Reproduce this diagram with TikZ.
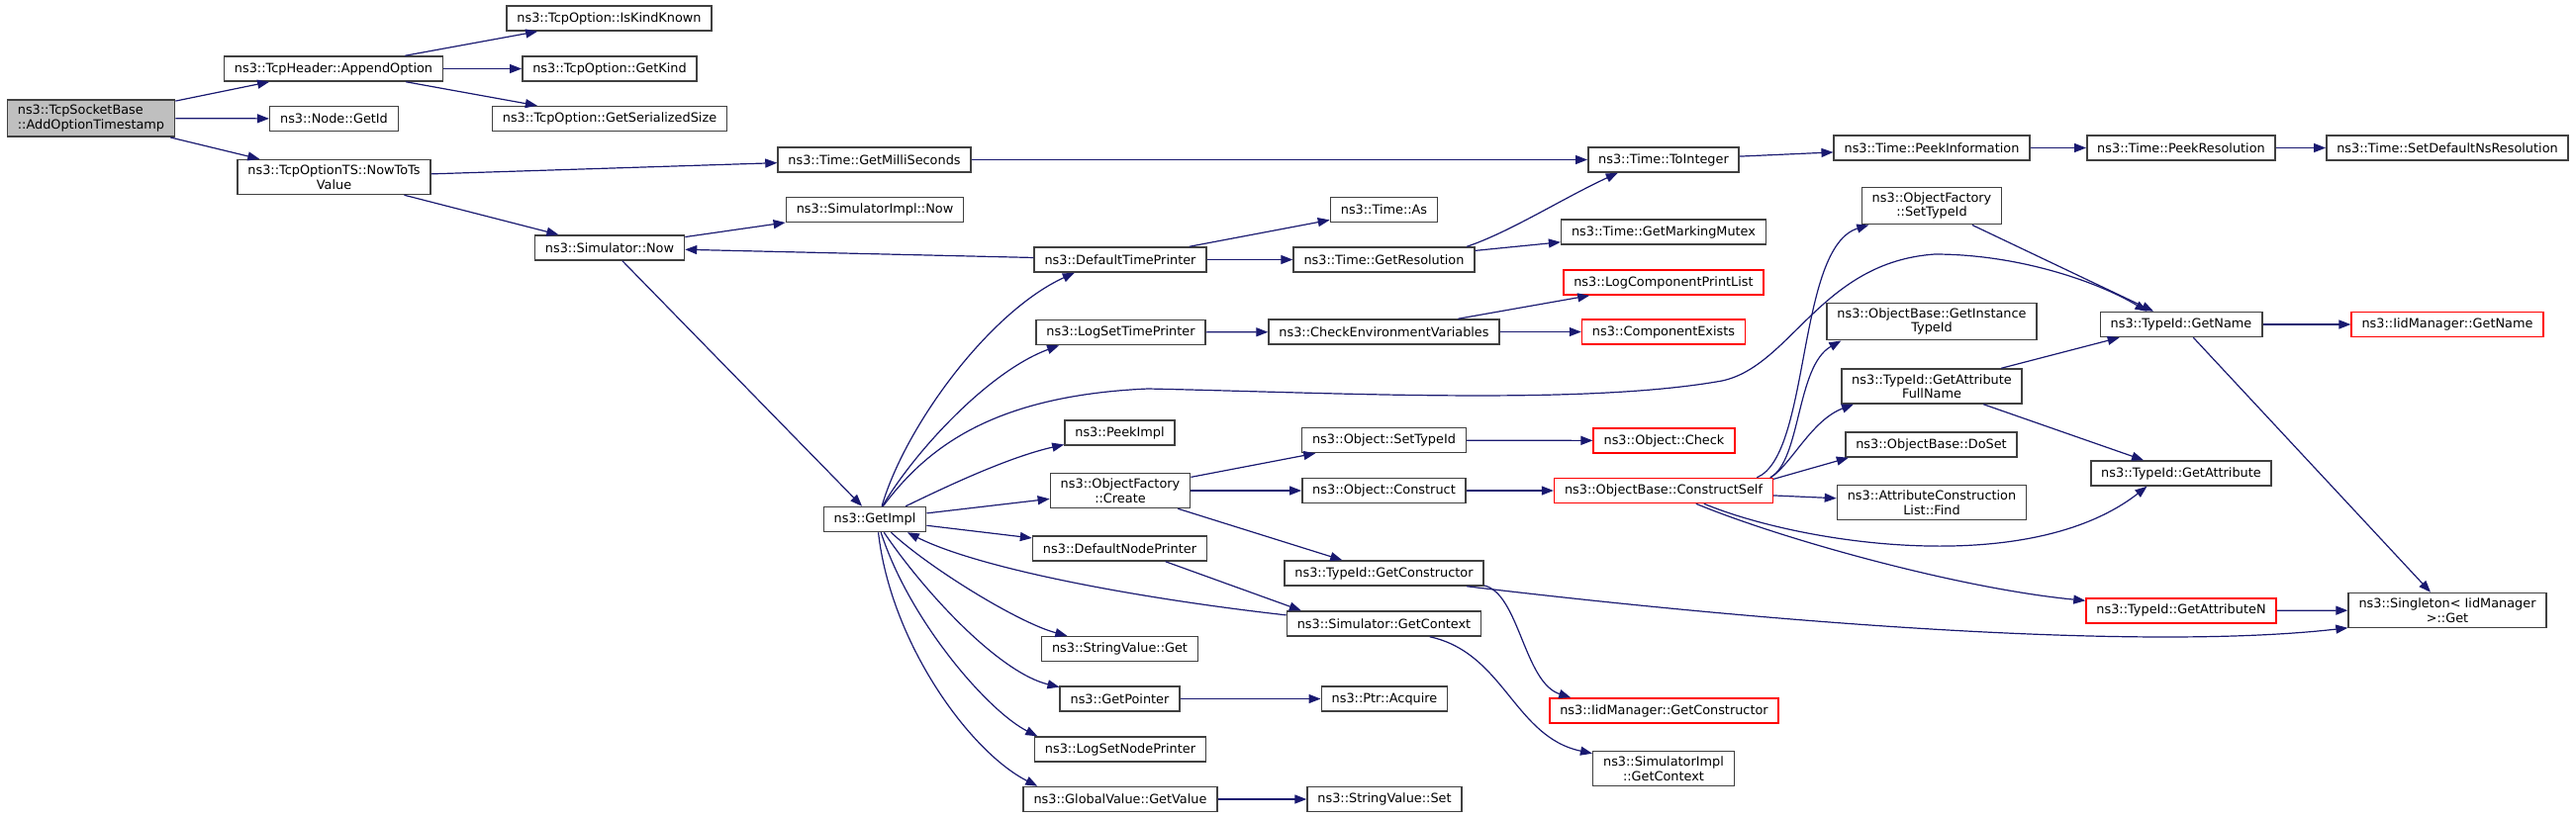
\documentclass[tikz,border=0pt]{standalone}
\usepackage{fontspec}
\setmainfont{DejaVu Sans}
\usetikzlibrary{arrows.meta}
\definecolor{callblue}{HTML}{191970}
\definecolor{boxgray}{HTML}{404040}

\begin{document}
\begin{tikzpicture}[
        x=0.5pt, y=-0.5pt,
        box/.style={draw=boxgray, line width=0.75pt, align=center, inner xsep=5.2pt, inner ysep=2.6pt,
            minimum height=12.5pt, font=\fontsize{6.43}{7.3}\selectfont},
        rootbox/.style={box, fill=black!25, align=left},
        redbox/.style={box, draw=red},
        callto/.style={->, draw=callblue, line width=0.6pt},
        >={Triangle[length=6pt, width=4.5pt]}]
        \useasboundingbox (0,0) rectangle (2603,827);

        % columns, left to right
        \node[rootbox] (root) at (92,119.5) {ns3::TcpSocketBase\\::AddOptionTimestamp};

        \node[box] (append) at (337,69.5) {ns3::TcpHeader::AppendOption};
        \node[box] (getid) at (337.5,120) {ns3::Node::GetId};
        \node[box] (nowts) at (337.5,179) {ns3::TcpOptionTS::NowToTs\\Value};

        \node[box] (iskind) at (615.5,18.5) {ns3::TcpOption::IsKindKnown};
        \node[box] (getkind) at (616,69.5) {ns3::TcpOption::GetKind};
        \node[box] (sersize) at (616,120) {ns3::TcpOption::GetSerializedSize};
        \node[box] (simnow) at (616,250.5) {ns3::Simulator::Now};

        \node[box] (millis) at (883.5,161.5) {ns3::Time::GetMilliSeconds};
        \node[box] (implnow) at (884,212) {ns3::SimulatorImpl::Now};
        \node[box] (getimpl) at (884,525) {ns3::GetImpl};

        \node[box] (deftime) at (1132,262.5) {ns3::DefaultTimePrinter};
        \node[box] (logtime) at (1132.5,336) {ns3::LogSetTimePrinter};
        \node[box] (peekimpl) at (1131.5,437.5) {ns3::PeekImpl};
        \node[box] (ofcreate) at (1132,496) {ns3::ObjectFactory\\::Create};
        \node[box] (defnode) at (1131.5,554.5) {ns3::DefaultNodePrinter};
        \node[box] (svget) at (1131.5,656) {ns3::StringValue::Get};
        \node[box] (getptr) at (1131.5,706.5) {ns3::GetPointer};
        \node[box] (lognode) at (1132,757.5) {ns3::LogSetNodePrinter};
        \node[box] (gvget) at (1132,808) {ns3::GlobalValue::GetValue};

        \node[box] (timeas) at (1398.5,212) {ns3::Time::As};
        \node[box] (getres) at (1398.5,262.5) {ns3::Time::GetResolution};
        \node[box] (checkenv) at (1398.5,335.5) {ns3::CheckEnvironmentVariables};
        \node[box] (objset) at (1398.5,445) {ns3::Object::SetTypeId};
        \node[box] (objcons) at (1398.5,496) {ns3::Object::Construct};
        \node[box] (getcons) at (1398.5,579.5) {ns3::TypeId::GetConstructor};
        \node[box] (simctx) at (1398.5,630.5) {ns3::Simulator::GetContext};
        \node[box] (acquire) at (1399,706.5) {ns3::Ptr::Acquire};
        \node[box] (svset) at (1399,808) {ns3::StringValue::Set};

        \node[box] (toint) at (1681,161.5) {ns3::Time::ToInteger};
        \node[box] (marking) at (1681,234.5) {ns3::Time::GetMarkingMutex};
        \node[redbox] (logcomp) at (1681,285.5) {ns3::LogComponentPrintList};
        \node[redbox] (compex) at (1681,335.5) {ns3::ComponentExists};
        \node[redbox] (check) at (1681.5,445.5) {ns3::Object::Check};
        \node[redbox] (cself) at (1681,496) {ns3::ObjectBase::ConstructSelf};
        \node[redbox] (iidcons) at (1681.5,718.5) {ns3::IidManager::GetConstructor};
        \node[box] (implctx) at (1681,777) {ns3::SimulatorImpl\\::GetContext};

        \node[box] (peekinfo) at (1952,149.5) {ns3::Time::PeekInformation};
        \node[box] (ofsettid) at (1952,208) {ns3::ObjectFactory\\::SetTypeId};
        \node[box] (instance) at (1952,325) {ns3::ObjectBase::GetInstance\\TypeId};
        \node[box] (attrfull) at (1952,390.5) {ns3::TypeId::GetAttribute\\FullName};
        \node[box] (doset) at (1951.5,449.5) {ns3::ObjectBase::DoSet};
        \node[box] (acfind) at (1952,508) {ns3::AttributeConstruction\\List::Find};

        \node[box] (peekres) at (2204,149.5) {ns3::Time::PeekResolution};
        \node[box] (getname) at (2204,328) {ns3::TypeId::GetName};
        \node[box] (getattr) at (2204,478.5) {ns3::TypeId::GetAttribute};
        \node[redbox] (getattrn) at (2204,617.4) {ns3::TypeId::GetAttributeN};

        \node[box] (setdef) at (2473,149.5) {ns3::Time::SetDefaultNsResolution};
        \node[redbox] (iidname) at (2473,328) {ns3::IidManager::GetName};
        \node[box] (singleton) at (2473,617) {ns3::Singleton< IidManager\\>::Get};

        % calls
        \draw[callto] (root) -- (append);
        \draw[callto] (root) -- (getid);
        \draw[callto] (root) -- (nowts);
        \draw[callto] (append) -- (iskind);
        \draw[callto] (append) -- (getkind);
        \draw[callto] (append) -- (sersize);
        \draw[callto] (nowts) -- (millis);
        \draw[callto] (nowts) -- (simnow);
        \draw[callto] (millis) -- (toint);
        \draw[callto] (simnow) -- (implnow);
        \draw[callto] (simnow) -- (getimpl);
        \draw[callto] (deftime) -- (simnow);
        \draw[callto] (deftime) -- (timeas);
        \draw[callto] (deftime) -- (getres);
        \draw[callto] (getres.9) .. controls (1525,235) and (1580,200) .. (toint.-164);
        \draw[callto] (getres) -- (marking);
        \draw[callto] (toint) -- (peekinfo);
        \draw[callto] (peekinfo) -- (peekres);
        \draw[callto] (peekres) -- (setdef);

        % out of GetImpl
        \draw[callto] (getimpl.62) .. controls (915,430) and (1000,315) .. (deftime.-164);
        \draw[callto] (getimpl.60) .. controls (925,455) and (1000,375) .. (logtime.-168);
        \draw[callto] (getimpl.58) .. controls (935,455) and (1000,400) .. (1160,393)
            .. controls (1350,397) and (1600,410) .. (1740,385)
            .. controls (1810,370) and (1840,265) .. (1955,257)
            .. controls (2040,257) and (2120,285) .. (getname.159);
        \draw[callto] (getimpl.23) .. controls (960,490) and (1020,462) .. (peekimpl.-168);
        \draw[callto] (getimpl) -- (ofcreate);
        \draw[callto] (getimpl) -- (defnode);
        \draw[callto] (simctx.175) .. controls (1150,605) and (990,575) .. (getimpl.-22);
        \draw[callto] (getimpl.-39) .. controls (940,575) and (1030,630) .. (svget.166);
        \draw[callto] (getimpl.-55) .. controls (935,600) and (1010,680) .. (getptr.169);
        \draw[callto] (getimpl.-65) .. controls (920,630) and (1000,720) .. (lognode.171);
        \draw[callto] (getimpl.-75) .. controls (900,650) and (980,760) .. (gvget.171);

        \draw[callto] (logtime) -- (checkenv);
        \draw[callto] (checkenv) -- (logcomp);
        \draw[callto] (checkenv) -- (compex);
        \draw[callto] (ofcreate) -- (objset);
        \draw[callto] (ofcreate) -- (objcons);
        \draw[callto] (ofcreate) -- (getcons);
        \draw[callto] (objset) -- (check);
        \draw[callto] (objcons) -- (cself);
        \draw[callto] (defnode.-16) -- (simctx.171);
        \draw[callto] (getcons.-7) .. controls (1535,600) and (1540,690) .. (iidcons.172);
        \draw[callto] (getcons.-9) .. controls (1750,625) and (2150,660) .. (singleton.-170);
        \draw[callto] (simctx.-16) .. controls (1520,660) and (1530,745) .. (implctx.168);
        \draw[callto] (getptr) -- (acquire);
        \draw[callto] (gvget) -- (svset);

        % out of ConstructSelf
        \draw[callto] (cself.8) .. controls (1830,460) and (1815,250) .. (ofsettid.-163);
        \draw[callto] (cself.7.5) .. controls (1820,465) and (1815,370) .. (instance.-168);
        \draw[callto] (cself.7) .. controls (1810,470) and (1830,425) .. (attrfull.-167);
        \draw[callto] (cself.6.5) -- (doset.-171);
        \draw[callto] (cself) -- (acfind);
        \draw[callto] (cself.-18) .. controls (1820,550) and (2050,585) .. (getattr.-159);
        \draw[callto] (cself.-22) .. controls (1800,545) and (1980,595) .. (getattrn.174);

        \draw[callto] (ofsettid) -- (getname);
        \draw[callto] (attrfull) -- (getname.-168);
        \draw[callto] (attrfull) -- (getattr);
        \draw[callto] (getname) -- (iidname);
        \draw[callto] (getname) -- (singleton);
        \draw[callto] (getattrn) -- (singleton);
    \end{tikzpicture}
\end{document}
